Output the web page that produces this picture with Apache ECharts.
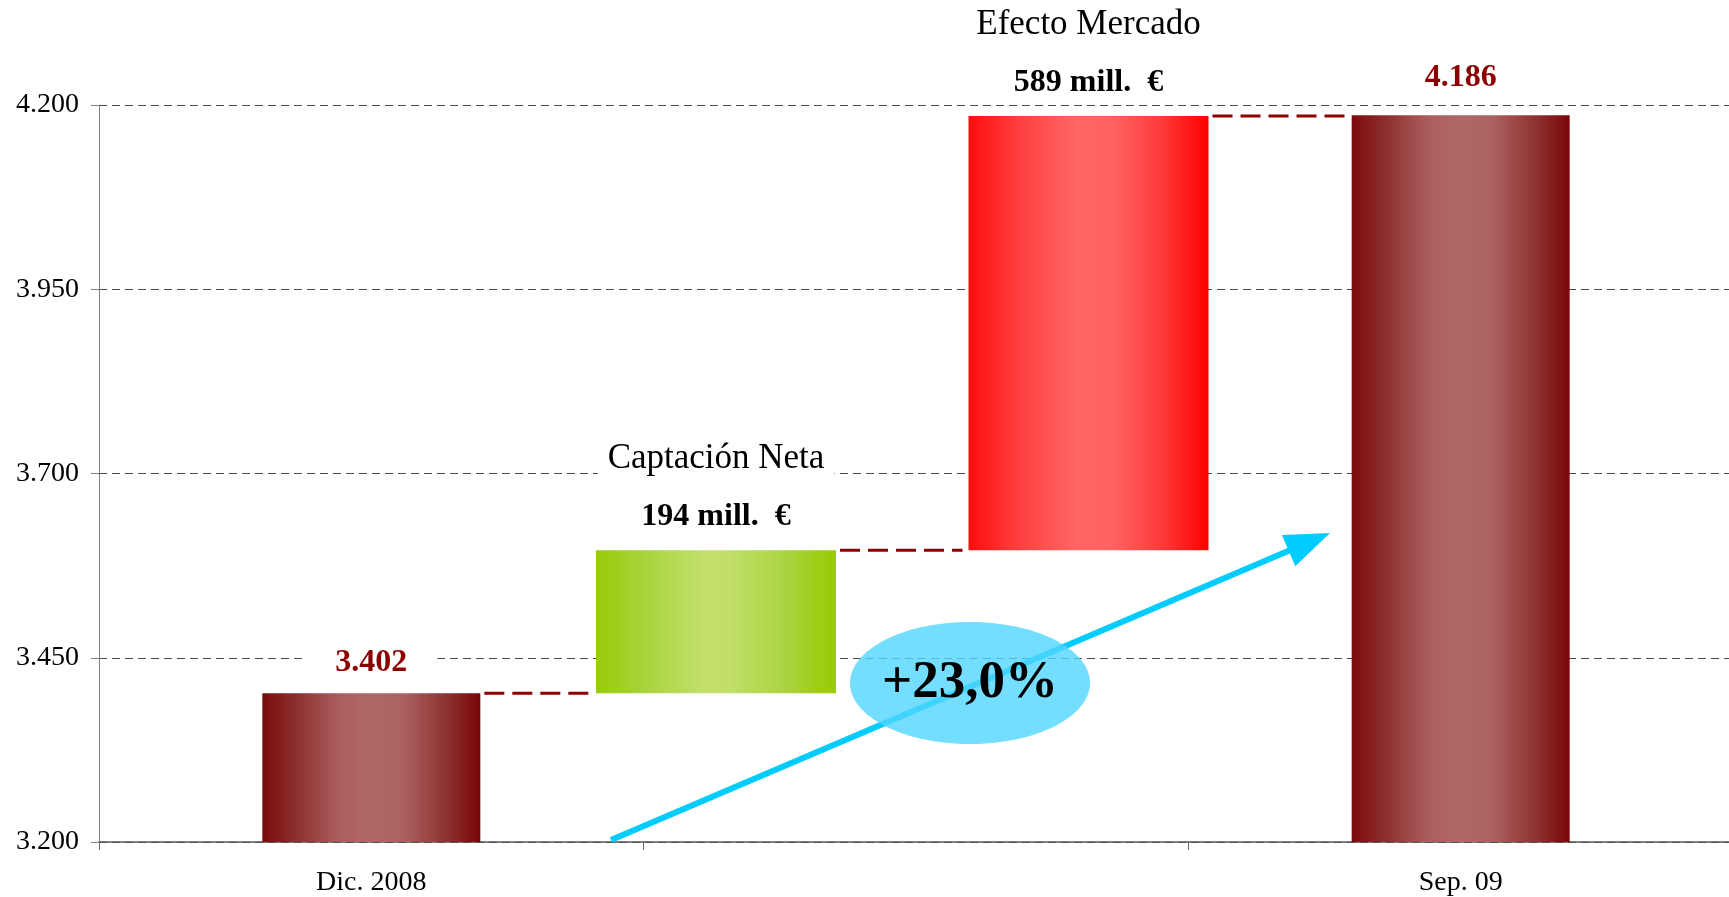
<!DOCTYPE html>
<html><head><meta charset="utf-8">
<script src="https://cdn.jsdelivr.net/npm/echarts/dist/echarts.min.js"></script>
<style>html,body{margin:0;padding:0;background:#fff}#c{width:1729px;height:897px}</style>
</head><body><div id="c"></div>
<script>
// ---- data ----
const categories = ['Dic. 2008', '', 'Sep. 09'];
const totals = [3402, null, 4186];
const changeLabels = ['Captación Neta', 'Efecto Mercado'];
const changeValues = [194, 589];
const yMin = 3200, yMax = 4200, yStep = 250;
const growthLabel = '+23,0%';

// derived waterfall bases
const changeBases = [];
let run = totals[0];
changeValues.forEach(v => { changeBases.push(run); run += v; });

const FONT = 'Liberation Serif';
const fmt = v => String(v).replace(/\B(?=(\d{3})+(?!\d))/g, '.');
const hGrad = stops => ({type: 'linear', x: 0, y: 0, x2: 1, y2: 0,
  colorStops: stops.map(s => ({offset: s[0], color: s[1]}))});
const darkRed = hGrad([[0,'#7c0a0a'],[0.15,'#8c2e2e'],[0.35,'#aa5e5d'],[0.5,'#b06866'],[0.65,'#ab615f'],[0.85,'#8d3131'],[1,'#7a0606']]);
const green = hGrad([[0,'#99cb06'],[0.2,'#a9d33c'],[0.45,'#c3e06c'],[0.55,'#c2df6a'],[0.8,'#aad33e'],[1,'#98ca00']]);
const red = hGrad([[0,'#ff0d0d'],[0.2,'#ff3d3d'],[0.45,'#ff6666'],[0.6,'#ff6262'],[0.8,'#ff3b3b'],[1,'#ff0000']]);
const changeColors = [green, red];
const totalLabelDist = [14, 22, 22];

const chart = echarts.init(document.getElementById('c'));
const option = {
  animation: false,
  backgroundColor: '#fff',
  grid: [
    {left: 99, width: 1634, top: 105, bottom: 55, containLabel: false, outerBoundsMode: 'none'},
    {left: 529.75, right: 454.25, top: 105, bottom: 55, containLabel: false, outerBoundsMode: 'none'}
  ],
  xAxis: [
    {type: 'category', gridIndex: 0, data: categories,
     axisLine: {show: true, lineStyle: {color: '#555', width: 1.5}},
     axisTick: {show: true, length: 8, lineStyle: {color: '#666'}},
     axisLabel: {color: '#000', fontSize: 28, fontFamily: FONT, margin: 27, interval: 0}},
    {type: 'category', gridIndex: 1, data: changeLabels, show: false}
  ],
  yAxis: [
    {type: 'value', gridIndex: 0, min: yMin, max: yMax, interval: yStep,
     axisLine: {show: true, lineStyle: {color: '#7f7f7f', width: 1}},
     axisTick: {show: true, length: 8, lineStyle: {color: '#7f7f7f'}},
     axisLabel: {color: '#000', fontSize: 28, fontFamily: FONT, margin: 20, formatter: fmt},
     splitLine: {show: true, lineStyle: {type: [8, 5], color: '#4a4a4a', width: 1}}},
    {type: 'value', gridIndex: 1, min: yMin, max: yMax, interval: yStep, show: false,
     splitLine: {show: false}}
  ],
  series: [
    {type: 'bar', name: 'totales', xAxisIndex: 0, yAxisIndex: 0, barWidth: 218,
     data: totals.map((v, i) => v == null ? '-' : {value: v, label: {distance: totalLabelDist[i]}}),
     itemStyle: {color: darkRed},
     label: {show: true, position: 'top', distance: 20, formatter: p => fmt(p.value),
       color: '#8b0000', fontSize: 32, fontWeight: 'bold', fontFamily: FONT,
       backgroundColor: '#fff', padding: [0, 30]}},
    {type: 'bar', name: 'base', xAxisIndex: 1, yAxisIndex: 1, stack: 'w', barWidth: 240,
     data: changeBases, silent: true,
     itemStyle: {color: 'rgba(0,0,0,0)'}},
    {type: 'bar', name: 'cambio', xAxisIndex: 1, yAxisIndex: 1, stack: 'w', barWidth: 240,
     data: changeValues.map((v, i) => ({value: v, itemStyle: {color: changeColors[i]}})),
     label: {show: true, position: 'top', distance: 8,
       formatter: p => '{t|' + changeLabels[p.dataIndex] + '}\n{v|' + changeValues[p.dataIndex] + ' mill.  €}',
       rich: {
         t: {fontSize: 35, fontFamily: FONT, color: '#000', lineHeight: 66,
             backgroundColor: '#fff', padding: [0, 10]},
         v: {fontSize: 32, fontFamily: FONT, fontWeight: 'bold', color: '#000', lineHeight: 50}
       }}}
  ]
};
chart.setOption(option);

// connectors between bar tops (dashed dark red), positioned via the axes
const yPx = v => chart.convertToPixel({yAxisIndex: 0}, v);
const bars = [
  {cx: chart.convertToPixel({xAxisIndex: 0}, 0), w: 218, top: totals[0]},
  {cx: chart.convertToPixel({xAxisIndex: 1}, 0), w: 240, top: changeBases[0] + changeValues[0]},
  {cx: chart.convertToPixel({xAxisIndex: 1}, 1), w: 240, top: changeBases[1] + changeValues[1]},
  {cx: chart.convertToPixel({xAxisIndex: 0}, 2), w: 218, top: totals[2]}
];
const graphics = [];
for (let i = 0; i < bars.length - 1; i++) {
  const a = bars[i], b = bars[i + 1];
  const y = yPx(a.top);
  graphics.push({type: 'line', z: 5, silent: true,
    shape: {x1: a.cx + a.w / 2 + 4, y1: y, x2: b.cx - b.w / 2 - 6, y2: y},
    style: {stroke: '#8b0000', lineWidth: 3, lineDash: [20, 8]}});
}
// growth arrow
const sx = 611, sy = yPx(yMin) - 2, tx = 1330, ty = 533;
const dx = tx - sx, dy = ty - sy, L = Math.hypot(dx, dy);
const ux = dx / L, uy = dy / L, nx = -uy, ny = ux;
const hl = 45, hw = 17;
const bx = tx - ux * hl, by = ty - uy * hl;
graphics.push({type: 'line', z: 10, silent: true,
  shape: {x1: sx, y1: sy, x2: bx + ux * 2, y2: by + uy * 2},
  style: {stroke: '#00ccff', lineWidth: 6}});
graphics.push({type: 'polygon', z: 10, silent: true,
  shape: {points: [[tx, ty], [bx + nx * hw, by + ny * hw], [bx - nx * hw, by - ny * hw]]},
  style: {fill: '#00ccff'}});
graphics.push({type: 'ellipse', z: 11, silent: true,
  shape: {cx: 970, cy: 683, rx: 120, ry: 61},
  style: {fill: 'rgba(80,214,255,0.8)'}});
graphics.push({type: 'text', z: 12, silent: true, x: 970, y: 683,
  style: {text: growthLabel, fontSize: 53, fontWeight: 'bold', fontFamily: FONT,
    fill: '#000', align: 'center', verticalAlign: 'middle'}});
chart.setOption({graphic: graphics});
</script></body></html>
